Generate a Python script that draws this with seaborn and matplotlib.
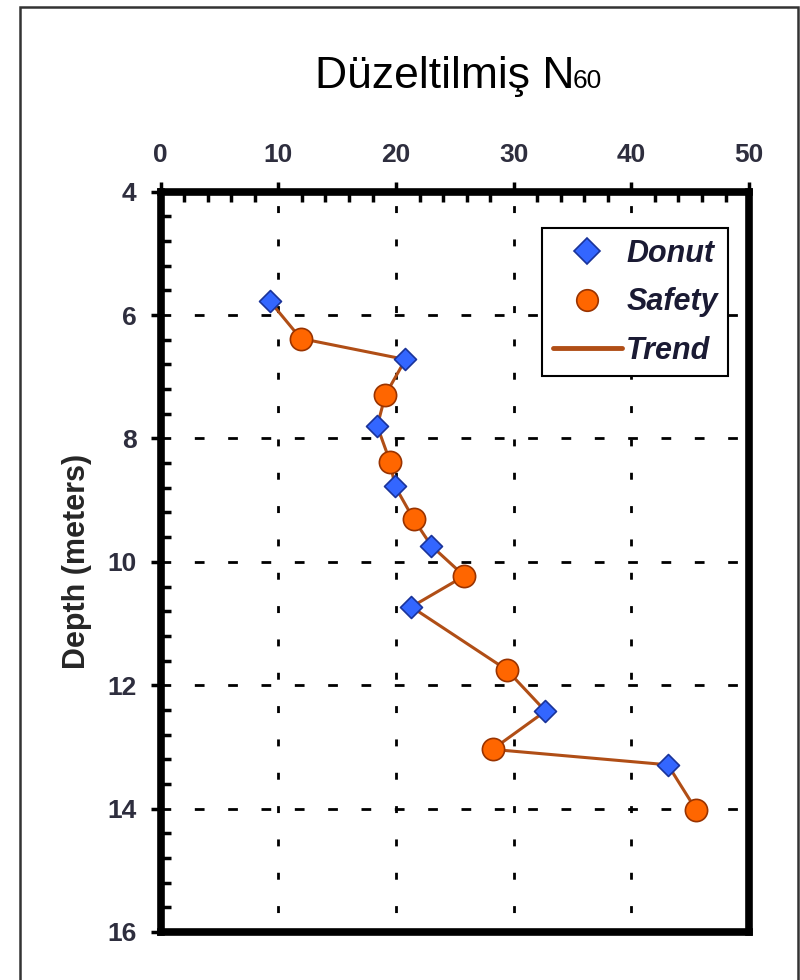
import pandas as pd
import matplotlib.pyplot as plt
import seaborn as sns
from matplotlib.lines import Line2D
from matplotlib.patches import Rectangle
from matplotlib.ticker import MultipleLocator

# values
donut_depth = [5.78, 6.72, 7.80, 8.77, 9.74, 10.73, 12.42, 13.29]
donut_n60 = [9.3, 20.8, 18.4, 19.9, 23.0, 21.3, 32.7, 43.1]
safety_depth = [6.38, 7.29, 8.38, 9.31, 10.23, 11.75, 13.04, 14.02]
safety_n60 = [11.9, 19.1, 19.5, 21.5, 25.8, 29.4, 28.2, 45.5]

x_ticks = [0, 10, 20, 30, 40, 50]
y_ticks = [4, 6, 8, 10, 12, 14, 16]

donut = pd.DataFrame({"N60": donut_n60, "Depth": donut_depth, "Hammer": "Donut"})
safety = pd.DataFrame({"N60": safety_n60, "Depth": safety_depth, "Hammer": "Safety"})
trend = pd.concat([donut, safety]).sort_values("Depth")

sns.set_theme(style="white")
plt.rcParams["font.family"] = ["Liberation Sans", "DejaVu Sans"]

blue, blue_edge = "#3366FF", "#1a3399"
orange, orange_edge = "#FF6600", "#993300"
trend_col = "#B04E16"
tick_col = "#2e2e3e"

fig = plt.figure(figsize=(8, 9.8), dpi=100)
ax = fig.add_axes([0.2009, 0.0490, 0.7354, 0.7554])

sns.lineplot(data=trend, x="N60", y="Depth", sort=False, estimator=None,
             color=trend_col, lw=2.2, ax=ax, zorder=2)
sns.scatterplot(data=donut, x="N60", y="Depth", marker="D", s=125,
                color=blue, edgecolor=blue_edge, linewidth=1.2, ax=ax, zorder=3)
sns.scatterplot(data=safety, x="N60", y="Depth", marker="o", s=256,
                color=orange, edgecolor=orange_edge, linewidth=1.2, ax=ax, zorder=3)

ax.set_xlim(0, 50)
ax.set_ylim(16, 4)
ax.set_xticks(x_ticks)
ax.set_yticks(y_ticks)
ax.xaxis.set_minor_locator(MultipleLocator(2))
ax.yaxis.set_minor_locator(MultipleLocator(0.4))
ax.xaxis.tick_top()
ax.xaxis.set_label_position("top")
ax.set_xlabel("")
ax.set_ylabel("Depth (meters)", fontsize=22, fontweight="bold", labelpad=11)

ax.tick_params(which="major", direction="out", length=7.5, width=2.5,
               color="black", labelsize=19, labelcolor=tick_col, pad=10)
ax.tick_params(which="minor", direction="in", length=7, width=2.5, color="black")
ax.tick_params(axis="x", which="both", top=True, bottom=False)
ax.tick_params(axis="y", which="both", left=True, right=False)
for lbl in ax.get_xticklabels() + ax.get_yticklabels():
    lbl.set_fontweight("bold")

for sp in ax.spines.values():
    sp.set_visible(True)
    sp.set_linewidth(5.5)
    sp.set_color("black")
    sp.set_capstyle("projecting")

ax.xaxis.grid(True, color="black", lw=2, linestyle=(5, (2.5, 9.5)))
ax.yaxis.grid(True, color="black", lw=2, linestyle=(0, (3.5, 8.5)))
ax.set_axisbelow(True)

handles = [
    Line2D([], [], marker="D", ls="none", ms=13, mfc=blue, mec=blue_edge, mew=1.2),
    Line2D([], [], marker="o", ls="none", ms=15.5, mfc=orange, mec=orange_edge, mew=1.2),
    Line2D([], [], color=trend_col, lw=3.5),
]
leg = ax.legend(handles, ["Donut", "Safety", "Trend"], loc="upper right",
                bbox_to_anchor=(0.965, 0.9506), borderaxespad=0,
                prop={"weight": "bold", "style": "italic", "size": 22},
                labelcolor="#1a1a33", handlelength=2.25, handletextpad=0.15,
                borderpad=0.35, labelspacing=0.6, fancybox=False, framealpha=1)
leg.get_frame().set_edgecolor("black")
leg.get_frame().set_linewidth(1.5)

fig.text(315 / 800, 1 - 88 / 980, "Düzeltilmiş N", fontsize=32,
         ha="left", va="baseline", color="black")
fig.text(573 / 800, 1 - 88 / 980, "60", fontsize=19,
         ha="left", va="baseline", color="black")

fig.patches.append(Rectangle((20 / 800, -0.05), 778 / 800, 1.05 - 7 / 980,
                             transform=fig.transFigure, fill=False,
                             edgecolor="#333333", lw=1.8))

fig.savefig("out.png", dpi=100)
